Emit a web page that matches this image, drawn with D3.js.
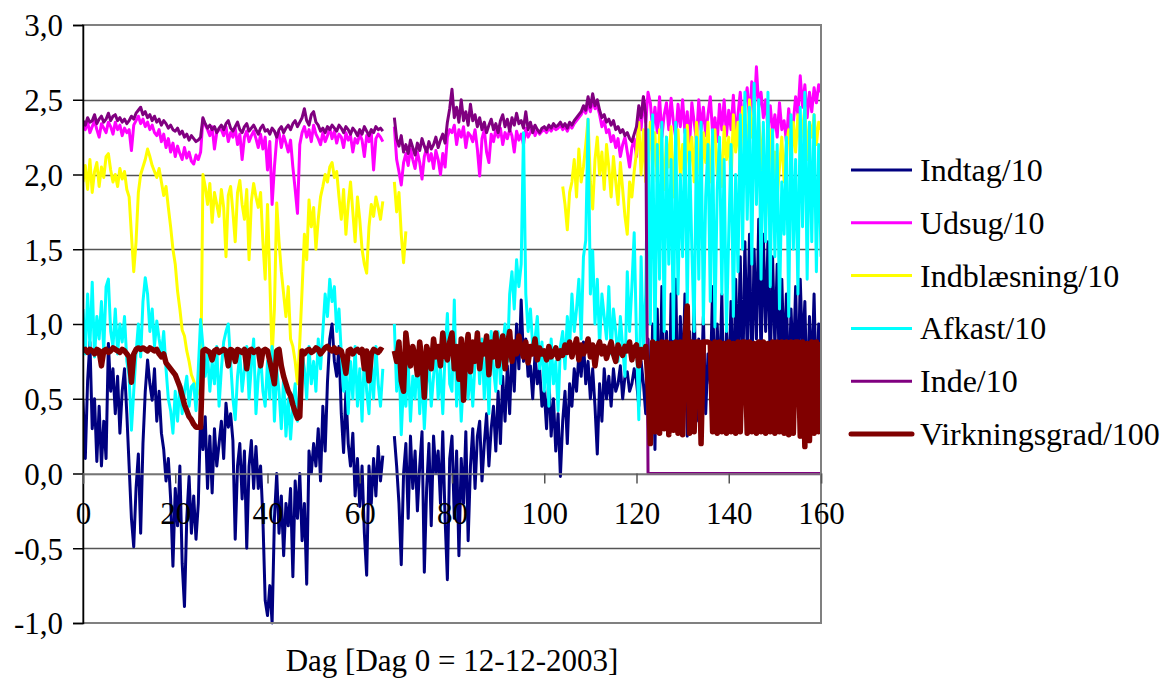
<!DOCTYPE html>
<html>
<head>
<meta charset="utf-8">
<script src="https://cdn.jsdelivr.net/npm/d3@7"></script>
<style>
  body { margin: 0; background: #fff; }
  svg text { font-family: "Liberation Serif", "Times New Roman", Times, "DejaVu Serif", serif; fill: #000; }
</style>
</head>
<body>
<svg id="chart" width="1175" height="679"></svg>
<script>
// Daily series sampled every half day, day 0 = 12-12-2003
const STEP = 0.5;
const xTicks = [0, 20, 40, 60, 80, 100, 120, 140, 160];
const yTicks = [-1, -0.5, 0, 0.5, 1, 1.5, 2, 2.5, 3];
const seriesNames = ['Indtag/10', 'Udsug/10', 'Indblæsning/10', 'Afkast/10', 'Inde/10', 'Virkningsgrad/100'];
const seriesColors = ['#000080', '#ff00ff', '#ffff00', '#00ffff', '#800080', '#800000'];
const seriesWidths = [3, 3, 3, 3, 3, 5.5];
const FONT = '"Liberation Serif", "Times New Roman", Times, "DejaVu Serif", serif';

const indtag = [
  0.49,0.10,0.62,0.88,0.30,0.50,0.08,0.45,0.05,0.35,0.10,0.87,0.55,0.70,0.40,0.65,0.27,0.55,0.70,0.40,
  0.05,-0.30,-0.49,-0.10,0.13,-0.40,0.20,0.55,0.76,0.60,0.49,0.70,0.35,0.55,0.27,0.16,-0.05,0.10,-0.17,-0.62,
  -0.10,-0.35,0.05,-0.60,-0.89,-0.30,-0.02,-0.40,-0.15,-0.44,-0.20,0.40,0.16,0.38,-0.10,0.25,-0.13,0.30,0.05,0.20,
  0.35,0.10,0.47,0.31,0.40,0.22,-0.44,0.05,0.20,-0.17,0.15,-0.50,0.05,0.22,-0.10,0.18,-0.10,0.05,-0.30,-0.85,
  -0.95,-0.75,-1.00,-0.30,0.00,-0.40,-0.15,-0.55,-0.20,-0.35,-0.10,-0.69,-0.05,-0.30,0.00,-0.45,-0.20,-0.74,0.15,0.00,
  0.20,0.05,0.30,-0.05,0.45,0.15,0.61,0.90,1.00,0.75,0.65,0.85,0.40,0.14,0.55,0.20,0.05,0.27,-0.15,0.10,
  -0.22,0.05,-0.40,-0.68,0.05,-0.20,0.10,-0.15,0.18,-0.05,0.12,null,null,null,null,0.25,0.05,-0.20,-0.61,0.00,
  0.20,-0.30,0.25,-0.10,0.15,-0.25,0.05,0.28,-0.66,-0.10,0.20,-0.35,0.25,0.00,0.15,-0.20,0.28,-0.30,-0.71,0.10,
  0.25,-0.30,0.15,-0.55,0.10,-0.20,0.28,-0.45,0.05,0.30,-0.10,0.25,0.35,-0.05,0.20,0.40,0.05,0.30,0.45,0.15,
  0.55,0.20,0.65,0.35,0.72,0.40,0.85,0.55,1.00,0.70,1.16,0.75,0.90,0.65,0.72,0.50,0.80,0.60,0.70,0.45,
  0.55,0.30,0.65,0.25,0.50,0.15,0.40,-0.02,0.35,0.55,0.20,0.60,0.45,0.70,0.55,0.80,0.65,0.88,0.60,0.75,
  0.50,0.70,0.45,0.13,0.60,0.35,0.70,0.50,0.65,0.45,0.70,0.55,0.60,0.72,0.50,0.65,0.68,0.55,0.60,0.70,
  0.62,0.45,0.75,0.60,0.40,0.90,0.25,1.00,0.16,1.10,0.35,1.25,0.45,0.95,0.30,1.20,0.50,1.30,0.40,1.05,
  0.60,1.20,0.25,0.95,0.50,1.15,0.35,0.90,0.55,1.05,0.40,0.80,0.60,1.25,0.45,1.00,0.55,1.20,0.35,0.95,
  0.60,1.15,0.45,1.30,0.70,1.45,0.55,1.55,0.80,1.60,0.60,1.50,0.90,1.70,0.75,1.60,0.95,1.55,0.70,1.45,
  0.85,1.40,0.60,1.30,0.75,1.20,0.50,1.10,0.70,1.25,0.55,1.30,0.80,1.15,0.45,1.05,0.65,1.20,0.50,1.00,
  0.85
];

const udsug = [
  2.33,2.30,2.35,2.28,2.32,2.36,2.30,2.25,2.34,2.31,2.28,2.35,2.32,2.27,2.35,2.30,2.33,2.26,2.31,2.28,
  2.30,2.16,2.33,2.36,2.39,2.34,2.37,2.32,2.35,2.30,2.33,2.28,2.26,2.30,2.22,2.27,2.18,2.24,2.15,2.21,
  2.12,2.19,2.14,2.10,2.18,2.11,2.15,2.09,2.07,2.13,2.10,2.15,2.37,2.33,2.30,2.26,2.32,2.17,2.28,2.30,
  2.30,2.26,2.32,2.22,2.28,2.25,2.31,2.20,2.27,2.10,2.25,2.29,2.22,2.26,2.29,2.24,2.18,2.27,2.17,2.25,
  2.03,2.22,1.80,2.05,2.24,2.28,2.18,2.26,2.21,2.15,2.23,2.05,1.90,1.74,2.20,2.28,2.32,2.25,2.30,2.22,
  2.33,2.27,2.24,2.20,2.28,2.22,2.26,2.31,2.24,2.29,2.21,2.27,2.25,2.18,2.28,2.23,2.26,2.15,2.24,2.21,
  2.27,2.23,2.12,2.26,2.22,2.28,2.03,2.24,2.27,2.25,2.22,null,null,null,null,2.32,2.10,2.02,1.93,2.08,
  2.14,2.06,2.17,2.10,2.04,2.15,2.08,1.97,2.12,2.18,2.09,2.14,2.04,2.16,2.10,2.00,2.14,2.05,2.25,2.30,
  2.28,2.33,2.20,2.30,2.25,2.32,2.18,2.28,2.26,2.22,2.30,2.17,1.99,2.24,2.30,2.15,2.08,2.27,2.22,2.30,
  2.25,2.31,2.20,2.28,2.24,2.30,2.26,2.15,2.29,2.23,2.27,2.20,2.31,2.25,2.28,2.32,2.26,2.30,2.27,2.29,
  2.30,2.28,2.31,2.29,2.32,2.30,2.31,2.33,2.30,2.32,2.29,2.33,2.31,2.34,2.36,2.38,2.40,2.44,2.41,2.48,
  2.42,2.50,2.44,2.46,2.40,2.32,2.36,2.28,2.30,2.22,2.26,2.18,2.24,2.12,2.20,2.25,2.15,2.05,2.18,2.24,
  2.12,2.40,2.30,2.52,2.35,2.55,2.48,2.30,2.45,2.28,2.52,2.25,2.40,2.48,2.30,2.51,2.35,2.25,2.47,2.32,
  2.50,2.28,2.42,2.20,2.48,2.35,2.23,2.50,2.30,2.45,2.26,2.40,2.52,2.28,2.38,2.22,2.47,2.30,2.50,2.26,
  2.43,2.30,2.53,2.25,2.40,2.55,2.33,2.48,2.58,2.36,2.62,2.40,2.72,2.45,2.55,2.38,2.50,2.30,2.46,2.28,
  2.40,2.25,2.48,2.30,2.36,2.22,2.44,2.28,2.35,2.52,2.40,2.66,2.45,2.60,2.38,2.55,2.42,2.58,2.48,2.60,
  2.55
];

const indblaesning = [
  1.95,2.06,1.90,2.10,1.88,2.02,2.08,1.92,2.05,1.98,2.12,2.14,2.03,1.95,2.00,1.92,2.04,1.97,2.02,1.90,
  1.85,1.60,1.35,1.55,1.88,2.00,2.05,2.10,2.17,2.12,2.06,2.02,1.98,2.04,1.95,1.86,1.92,1.78,1.65,1.50,
  1.40,1.22,1.10,0.96,0.92,0.82,0.75,0.66,0.62,0.57,0.55,0.52,2.00,1.92,1.80,1.94,1.68,1.88,1.80,1.72,
  1.90,1.78,1.45,1.86,1.92,1.75,1.55,1.88,1.96,1.80,1.70,1.90,1.43,1.82,1.94,1.85,1.78,1.88,1.55,1.30,
  1.80,1.30,0.78,1.10,1.81,1.55,1.35,1.20,1.05,1.25,0.90,0.85,0.75,0.60,0.88,1.23,1.60,1.43,1.83,1.65,
  1.78,1.50,1.70,1.85,1.92,2.00,1.95,2.05,2.08,1.98,2.02,1.85,1.70,1.90,1.60,1.80,1.95,1.75,1.55,1.85,
  1.70,1.50,1.40,1.34,1.65,1.80,1.72,1.85,1.78,1.70,1.82,null,null,null,null,1.95,1.75,1.88,1.60,1.41,
  1.62,null,null,null,null,null,null,null,null,null,null,null,null,null,null,null,null,null,null,null,
  null,null,null,null,null,null,null,null,null,null,null,null,null,null,null,null,null,null,null,null,
  null,null,null,null,null,null,null,null,null,null,null,null,null,null,null,null,null,null,null,null,
  null,null,null,null,null,null,null,null,1.92,1.80,1.63,1.88,1.95,2.10,1.85,2.17,1.95,2.05,2.20,2.37,
  1.95,1.77,2.10,2.25,2.00,2.15,1.90,2.20,2.05,1.85,2.12,1.95,1.80,2.08,1.90,1.72,1.60,1.95,1.85,2.02,
  2.15,2.35,2.00,2.30,1.95,2.10,2.35,2.05,2.28,1.95,2.30,2.15,1.90,2.25,2.05,2.32,1.85,2.20,2.30,2.00,
  2.20,1.88,2.33,2.05,2.25,1.95,2.35,2.12,1.90,2.28,2.08,2.35,1.95,2.22,2.30,2.00,2.18,1.92,2.32,2.10,
  2.25,1.95,2.40,2.15,2.35,2.05,2.45,2.20,2.10,2.50,2.25,2.40,2.00,2.35,2.20,1.90,1.72,2.10,2.30,1.95,
  2.15,1.85,2.05,2.25,1.95,2.20,2.30,2.05,2.35,2.15,2.40,2.20,2.30,2.45,2.10,2.35,2.25,2.40,2.20,2.35,
  2.30
];

const afkast = [
  1.10,0.80,1.20,0.85,1.28,0.78,1.05,0.90,1.15,0.82,1.25,1.30,0.95,0.85,1.10,0.80,1.00,0.88,1.05,0.75,
  0.65,0.29,0.55,0.80,1.00,0.78,1.15,1.31,1.20,0.95,1.10,0.85,1.02,0.90,0.80,0.95,0.70,0.50,0.42,0.27,
  0.55,0.35,0.60,0.40,0.55,0.65,0.45,0.58,0.60,0.42,0.70,1.03,0.85,0.65,0.80,0.55,0.75,0.60,0.85,0.45,
  0.70,0.88,0.95,1.00,0.75,0.50,0.36,0.65,0.80,0.55,0.70,0.85,0.50,0.72,0.90,0.40,0.65,0.80,0.55,0.45,
  0.75,0.50,0.85,0.35,0.70,0.55,0.30,0.65,0.25,0.50,0.23,0.45,0.60,0.35,0.55,0.80,0.70,0.50,0.85,0.60,
  0.75,0.55,0.90,0.70,0.95,1.20,1.05,1.30,1.15,1.25,0.95,1.10,0.80,0.55,0.70,0.40,0.75,0.50,0.85,0.45,
  0.70,0.35,0.80,0.55,0.40,0.75,0.50,0.85,0.60,0.45,0.70,null,null,null,null,1.00,0.55,0.80,0.26,0.60,
  0.45,0.75,0.35,0.65,0.50,0.80,0.40,0.70,0.30,0.60,0.75,0.45,0.65,0.85,0.50,0.70,0.40,0.80,1.07,0.60,
  0.55,1.16,0.45,0.75,0.35,0.65,0.80,0.50,0.70,0.45,0.75,0.95,0.60,0.90,0.50,0.85,0.40,0.95,0.70,0.55,
  0.95,0.60,0.85,1.00,0.75,1.20,1.35,1.10,1.43,1.25,1.40,2.28,1.20,0.95,1.10,0.85,0.90,1.05,0.70,0.88,
  0.55,0.80,0.45,0.90,0.60,0.75,0.42,0.85,0.95,0.70,1.05,0.85,1.20,0.95,1.10,1.30,0.90,1.45,1.56,2.37,
  1.20,1.49,1.00,1.30,0.85,1.20,1.05,0.90,1.25,0.80,1.10,0.95,0.75,1.05,0.85,0.65,1.35,0.95,1.25,1.61,
  0.90,0.36,1.45,0.80,1.20,2.30,1.00,2.40,0.85,2.20,1.30,2.35,0.95,2.25,1.40,2.10,0.90,2.35,1.20,2.00,
  1.45,2.30,1.10,2.15,1.50,0.95,2.25,1.30,2.35,1.00,1.85,2.20,1.15,2.30,0.98,1.90,2.25,1.20,2.10,0.95,
  1.60,2.20,1.05,2.00,1.35,2.40,1.50,2.55,1.70,2.45,1.40,2.61,1.80,2.50,1.30,2.35,1.55,2.55,1.25,2.30,
  1.45,2.20,1.10,1.95,1.60,2.25,1.05,2.40,1.50,2.10,1.20,2.45,1.65,2.55,1.30,2.35,1.55,2.40,1.35,2.20,
  1.45
];

const inde = [
  2.36,2.33,2.38,2.35,2.36,2.40,2.34,2.37,2.39,2.35,2.37,2.41,2.36,2.39,2.40,2.36,2.38,2.35,2.37,2.34,
  2.36,2.39,2.37,2.41,2.43,2.45,2.40,2.42,2.38,2.40,2.36,2.39,2.35,2.37,2.33,2.36,2.34,2.31,2.33,2.30,
  2.29,2.31,2.27,2.29,2.25,2.27,2.23,2.26,2.24,2.22,2.23,2.25,2.38,2.34,2.31,2.33,2.30,2.32,2.28,2.31,
  2.33,2.30,2.34,2.36,2.31,2.29,2.32,2.35,2.30,2.28,2.32,2.34,2.29,2.31,2.33,2.30,2.27,2.31,2.33,2.29,
  2.30,2.27,2.31,2.29,2.25,2.30,2.32,2.28,2.31,2.33,2.30,2.34,2.36,2.32,2.35,2.38,2.44,2.36,2.33,2.40,
  2.42,2.35,2.33,2.29,2.31,2.28,2.32,2.30,2.33,2.31,2.29,2.33,2.31,2.28,2.32,2.30,2.27,2.31,2.29,2.26,
  2.30,2.27,2.32,2.29,2.26,2.30,2.28,2.32,2.30,2.31,2.29,null,null,null,null,2.38,2.24,2.19,2.26,2.15,
  2.20,2.14,2.23,2.18,2.13,2.21,2.16,2.24,2.19,2.15,2.22,2.17,2.20,2.25,2.18,2.23,2.27,2.21,2.35,2.44,
  2.57,2.38,2.45,2.35,2.50,2.36,2.42,2.33,2.47,2.36,2.40,2.32,2.38,2.30,2.35,2.28,2.33,2.37,2.30,2.34,
  2.28,2.36,2.40,2.32,2.37,2.29,2.38,2.33,2.41,2.34,2.36,2.31,2.42,2.30,2.35,2.28,2.33,2.30,2.28,2.31,
  2.32,2.30,2.33,2.31,2.34,2.32,2.33,2.35,2.32,2.34,2.31,2.35,2.33,2.36,2.38,2.40,2.42,2.46,2.43,2.52,
  2.45,2.54,2.46,2.50,2.43,2.38,2.40,2.35,2.37,2.33,2.36,2.30,2.32,2.28,2.30,2.26,2.28,2.24,2.22,2.27,
  2.32,2.46,2.38,2.52,2.40,0,0,0,0,0,0,0,0,0,0,0,0,0,0,0,
  0,0,0,0,0,0,0,0,0,0,0,0,0,0,0,0,0,0,0,0,
  0,0,0,0,0,0,0,0,0,0,0,0,0,0,0,0,0,0,0,0,
  0,0,0,0,0,0,0,0,0,0,0,0,0,0,0,0,0,0,0,0,
  0
];

const virkningsgrad = [
  0.82,0.83,0.81,0.83,0.82,0.80,0.83,0.82,0.72,0.82,0.83,0.81,0.82,0.84,0.83,0.82,0.81,0.83,0.82,0.80,
  0.78,0.61,0.80,0.83,0.84,0.83,0.84,0.83,0.82,0.84,0.83,0.82,0.83,0.80,0.78,0.80,0.74,0.72,0.70,0.68,
  0.66,0.62,0.58,0.52,0.46,0.42,0.38,0.36,0.33,0.31,0.31,0.31,0.82,0.83,0.82,0.81,0.76,0.82,0.83,0.81,
  0.82,0.83,0.82,0.72,0.83,0.82,0.75,0.83,0.82,0.81,0.83,0.70,0.82,0.83,0.81,0.82,0.83,0.72,0.82,0.83,
  0.82,0.75,0.68,0.60,0.82,0.83,0.72,0.65,0.60,0.55,0.52,0.46,0.41,0.37,0.38,0.82,0.80,0.82,0.83,0.81,
  0.82,0.84,0.83,0.80,0.82,0.84,0.85,0.83,0.82,0.84,0.81,0.83,0.82,0.76,0.67,0.82,0.83,0.80,0.82,0.83,
  0.81,0.83,0.70,0.82,0.62,0.80,0.83,0.82,0.81,0.83,0.82,null,null,null,null,0.82,0.75,0.88,0.62,0.55,
  0.94,0.80,0.72,0.85,0.78,0.66,0.88,0.75,0.51,0.85,0.80,0.70,0.90,0.78,0.85,0.72,0.94,0.80,0.76,0.88,
  0.94,0.70,0.85,0.63,0.90,0.49,0.82,0.93,0.68,0.88,0.75,0.94,0.70,0.86,0.80,0.92,0.66,0.88,0.78,0.94,
  0.72,0.85,0.92,0.70,0.86,0.95,0.75,0.88,0.80,0.92,0.83,0.78,0.88,0.74,0.85,0.80,0.90,0.76,0.84,0.80,
  0.82,0.76,0.85,0.78,0.80,0.84,0.77,0.82,0.79,0.86,0.81,0.88,0.78,0.84,0.90,0.76,0.86,0.80,0.83,0.90,
  0.78,0.86,0.72,0.84,0.88,0.80,0.85,0.77,0.83,0.88,0.80,0.75,0.86,0.82,0.79,0.85,0.82,0.88,0.76,0.84,
  0.86,0.72,0.83,0.78,0.85,0.60,0.20,0.88,0.28,0.87,0.27,0.88,0.30,0.88,0.26,0.87,0.29,0.88,0.27,0.88,
  0.26,0.88,1.12,0.27,0.88,0.28,0.88,0.88,0.20,0.88,0.88,0.88,0.87,0.28,0.88,0.27,0.88,0.28,0.87,0.27,
  0.88,0.28,0.87,0.27,0.88,0.28,0.88,0.88,0.27,0.88,0.28,0.87,0.27,0.88,0.28,0.88,0.27,0.87,0.28,0.88,
  0.27,0.88,0.28,0.88,0.27,0.88,0.26,0.88,0.27,0.88,0.88,0.25,0.88,0.18,0.87,0.22,0.88,0.27,0.88,0.28,
  0.88
];

const seriesValues = [indtag, udsug, indblaesning, afkast, inde, virkningsgrad];

(function(){
  const svg = d3.select('#chart');
  const plot = {left: 83, right: 821, top: 25, bottom: 623};

  const x = d3.scaleLinear().domain([0, 160]).range([plot.left, plot.right]);
  const y = d3.scaleLinear().domain([-1, 3]).range([plot.bottom, plot.top]);
  const fmt = d3.formatLocale({decimal: ',', thousands: '.', grouping: [3], currency: ['', ''], minus: '-'}).format('.1f');

  // horizontal gridlines
  svg.append('g').attr('class', 'grid')
    .selectAll('line').data(yTicks.filter(v => v > -1 && v < 3)).join('line')
    .attr('x1', plot.left).attr('x2', plot.right)
    .attr('y1', d => Math.round(y(d)) + 0.5).attr('y2', d => Math.round(y(d)) + 0.5)
    .attr('stroke', '#555').attr('stroke-width', 1.5);

  svg.append('clipPath').attr('id', 'clip')
    .append('rect').attr('x', plot.left).attr('y', plot.top - 2)
    .attr('width', plot.right - plot.left).attr('height', plot.bottom - plot.top + 4);

  const line = d3.line()
    .defined(d => d.v != null)
    .x(d => x(d.day))
    .y(d => y(d.v));

  const lines = svg.append('g').attr('clip-path', 'url(#clip)');
  seriesValues.forEach((vals, i) => {
    const pts = vals.map((v, k) => ({day: k * STEP, v}));
    lines.append('path')
      .datum(pts)
      .attr('d', line)
      .attr('fill', 'none')
      .attr('stroke', seriesColors[i])
      .attr('stroke-width', seriesWidths[i])
      .attr('stroke-linejoin', 'round');
  });

  // plot frame (gray) and value axis (black)
  svg.append('rect')
    .attr('x', plot.left).attr('y', plot.top)
    .attr('width', plot.right - plot.left).attr('height', plot.bottom - plot.top)
    .attr('fill', 'none').attr('stroke', '#808080').attr('stroke-width', 2);

  const yAxis = d3.axisLeft(y).tickValues(yTicks).tickSize(10).tickFormat(fmt);
  const gy = svg.append('g').attr('transform', `translate(${plot.left},0)`).call(yAxis)
    .attr('font-family', FONT).attr('font-size', 31);
  gy.select('.domain').attr('stroke', '#000').attr('stroke-width', 1.5);
  gy.selectAll('.tick line').attr('stroke', '#000').attr('stroke-width', 1.5);
  gy.selectAll('.tick text').attr('x', -20).attr('dy', '0.35em').attr('fill', '#000');

  // category axis crosses at 0
  const xAxis = d3.axisBottom(x).tickValues(xTicks).tickSize(10).tickFormat(d3.format('d'));
  const gx = svg.append('g').attr('transform', `translate(0,${y(0)})`).call(xAxis)
    .attr('font-family', FONT).attr('font-size', 31);
  gx.select('.domain').attr('stroke', '#808080').attr('stroke-width', 1.5);
  gx.selectAll('.tick line').attr('stroke', '#555').attr('stroke-width', 1.5);
  gx.selectAll('.tick text').attr('y', 40).attr('dy', '0.35em').attr('fill', '#000');

  svg.append('text')
    .attr('x', 452).attr('y', 671)
    .attr('text-anchor', 'middle')
    .attr('font-family', FONT).attr('font-size', 31)
    .text('Dag [Dag 0 = 12-12-2003]');

  // legend
  const legend = svg.append('g').attr('class', 'legend')
    .attr('font-family', FONT).attr('font-size', 32);
  seriesNames.forEach((name, i) => {
    const ly = 170 + i * 52.8;
    legend.append('line')
      .attr('x1', 851).attr('x2', 912).attr('y1', ly).attr('y2', ly)
      .attr('stroke', seriesColors[i]).attr('stroke-width', i === 5 ? 5 : 3)
      .attr('stroke-linecap', i === 5 ? 'round' : 'butt');
    legend.append('text')
      .attr('x', 920).attr('y', ly + 11)
      .text(name);
  });
})();
</script>
</body>
</html>
